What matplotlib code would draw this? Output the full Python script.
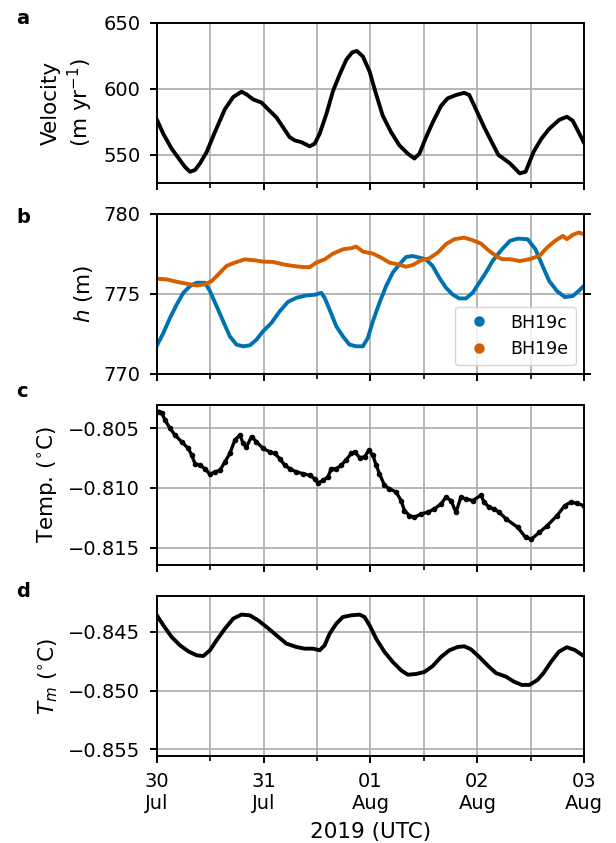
import numpy as np
import pandas as pd
import matplotlib
matplotlib.use("Agg")
import matplotlib.pyplot as plt
import matplotlib.dates as mdates
from matplotlib.lines import Line2D
from matplotlib.ticker import MultipleLocator

# -----------------------------------------------------
# data (time in days since 2019-07-30 00:00 UTC)
# -----------------------------------------------------
vel_t = [0.006, 0.062, 0.14, 0.218, 0.264, 0.311, 0.358, 0.404, 0.467, 0.544,
         0.638, 0.716, 0.793, 0.84, 0.902, 0.98, 1.058, 1.12, 1.182, 1.244,
         1.291, 1.353, 1.431, 1.478, 1.524, 1.587, 1.649, 1.711, 1.773, 1.829,
         1.873, 1.929, 1.991, 2.053, 2.115, 2.193, 2.271, 2.349, 2.411, 2.458,
         2.52, 2.582, 2.66, 2.722, 2.80, 2.877, 2.924, 2.986, 3.064, 3.142,
         3.198, 3.232, 3.305, 3.396, 3.451, 3.525, 3.598, 3.672, 3.763, 3.837,
         3.892, 3.947, 3.994]
vel = [575.9, 565.9, 554.7, 546.0, 541.0, 537.3, 538.6, 543.5, 552.2, 567.2,
       584.6, 593.8, 597.8, 595.8, 592.0, 589.6, 583.3, 578.4, 570.9, 563.4,
       561.0, 559.7, 556.5, 558.5, 566.0, 580.8, 598.3, 610.7, 621.9, 627.6,
       628.6, 624.4, 613.2, 595.8, 579.6, 567.2, 557.2, 551.0, 547.3, 551.0,
       563.4, 574.6, 587.1, 592.8, 595.3, 597.0, 595.3, 584.6, 570.9, 558.5,
       549.8, 548.0, 543.6, 536.1, 537.3, 552.2, 562.2, 569.7, 576.4, 578.9,
       575.9, 567.2, 559.7]

bh19c_t = [0.006, 0.062, 0.124, 0.187, 0.249, 0.311, 0.373, 0.451, 0.498, 0.56,
           0.622, 0.684, 0.747, 0.809, 0.871, 0.933, 0.995, 1.073, 1.151, 1.229,
           1.307, 1.40, 1.478, 1.54, 1.571, 1.617, 1.68, 1.742, 1.804, 1.866,
           1.929, 1.975, 2.022, 2.084, 2.146, 2.208, 2.271, 2.333, 2.395, 2.457,
           2.519, 2.581, 2.644, 2.706, 2.768, 2.83, 2.893, 2.955, 3.017, 3.079,
           3.142, 3.204, 3.232, 3.305, 3.378, 3.47, 3.543, 3.617, 3.672, 3.745,
           3.818, 3.892, 3.947, 3.994]
bh19c = [771.82, 772.55, 773.49, 774.33, 775.06, 775.48, 775.69, 775.69, 775.17, 774.23,
         773.28, 772.34, 771.82, 771.72, 771.78, 772.13, 772.66, 773.18, 773.91, 774.50,
         774.75, 774.90, 774.94, 775.06, 774.75, 774.02, 772.97, 772.34, 771.82, 771.72,
         771.72, 772.24, 773.28, 774.44, 775.48, 776.32, 776.84, 777.30, 777.36, 777.26,
         777.15, 776.74, 776.00, 775.38, 774.96, 774.71, 774.71, 775.06, 775.69, 776.32,
         777.05, 777.57, 777.79, 778.31, 778.45, 778.41, 777.79, 776.63, 775.80, 775.17,
         774.79, 774.86, 775.17, 775.48]

bh19e_t = [0.006, 0.093, 0.187, 0.28, 0.373, 0.451, 0.513, 0.576, 0.653, 0.731,
           0.824, 0.918, 0.995, 1.089, 1.182, 1.275, 1.369, 1.431, 1.493, 1.571,
           1.649, 1.742, 1.82, 1.866, 1.929, 2.022, 2.1, 2.177, 2.255, 2.333,
           2.395, 2.473, 2.551, 2.629, 2.706, 2.784, 2.877, 2.955, 3.033, 3.11,
           3.188, 3.232, 3.305, 3.396, 3.488, 3.58, 3.653, 3.727, 3.80, 3.837,
           3.892, 3.947, 3.994]
bh19e = [775.94, 775.90, 775.75, 775.63, 775.52, 775.59, 775.79, 776.21, 776.74, 776.95,
         777.15, 777.09, 777.01, 776.99, 776.84, 776.74, 776.67, 776.66, 776.95, 777.15,
         777.51, 777.78, 777.85, 777.95, 777.64, 777.51, 777.26, 776.95, 776.84, 776.69,
         776.80, 777.09, 777.22, 777.57, 778.10, 778.41, 778.51, 778.35, 778.14, 777.68,
         777.30, 777.16, 777.16, 777.05, 777.16, 777.37, 777.89, 778.31, 778.62, 778.41,
         778.68, 778.83, 778.73]

temp_t = [0.025, 0.047, 0.078, 0.124, 0.171, 0.233, 0.296, 0.327, 0.358, 0.404,
          0.451, 0.498, 0.544, 0.591, 0.638, 0.684, 0.731, 0.778, 0.809, 0.84,
          0.887, 0.933, 0.995, 1.058, 1.104, 1.151, 1.198, 1.244, 1.307, 1.369,
          1.431, 1.478, 1.509, 1.556, 1.602, 1.633, 1.68, 1.727, 1.774, 1.82,
          1.851, 1.898, 1.945, 1.985, 2.022, 2.053, 2.084, 2.131, 2.177, 2.24,
          2.286, 2.318, 2.364, 2.411, 2.473, 2.535, 2.598, 2.66, 2.706, 2.753,
          2.8, 2.846, 2.893, 2.955, 3.033, 3.064, 3.11, 3.157, 3.204, 3.268,
          3.378, 3.451, 3.506, 3.58, 3.653, 3.745, 3.818, 3.873, 3.928, 3.994]
temp = [-0.80359, -0.80373, -0.80430, -0.80500, -0.80556, -0.80613, -0.80669, -0.80725, -0.80796, -0.80810,
        -0.80838, -0.80886, -0.80866, -0.80852, -0.80782, -0.80711, -0.80599, -0.80556, -0.80627, -0.80655,
        -0.80570, -0.80613, -0.80669, -0.80697, -0.80711, -0.80754, -0.80810, -0.80838, -0.80866, -0.80880,
        -0.80894, -0.80923, -0.80959, -0.80937, -0.80908, -0.80838, -0.80838, -0.80810, -0.80762, -0.80711,
        -0.80697, -0.80745, -0.80740, -0.80683, -0.80725, -0.80810, -0.80880, -0.80979, -0.81007, -0.81035,
        -0.81106, -0.81190, -0.81232, -0.81247, -0.81218, -0.81204, -0.81176, -0.81134, -0.81077, -0.81106,
        -0.81204, -0.81077, -0.81092, -0.81106, -0.81063, -0.81120, -0.81162, -0.81176, -0.81204, -0.81260,
        -0.81331, -0.81416, -0.81429, -0.81373, -0.81317, -0.81232, -0.81148, -0.81120, -0.81128, -0.81148]

tm_t = [0.006, 0.062, 0.14, 0.218, 0.296, 0.373, 0.436, 0.498, 0.56, 0.638,
        0.716, 0.793, 0.871, 0.949, 1.027, 1.12, 1.213, 1.307, 1.384, 1.462,
        1.524, 1.571, 1.618, 1.68, 1.742, 1.82, 1.898, 1.944, 1.991, 2.053,
        2.131, 2.209, 2.287, 2.349, 2.427, 2.504, 2.582, 2.66, 2.738, 2.815,
        2.878, 2.94, 3.018, 3.095, 3.173, 3.268, 3.341, 3.415, 3.488, 3.562,
        3.617, 3.69, 3.763, 3.837, 3.91, 3.994]
tm = [-0.84364, -0.84443, -0.84543, -0.84614, -0.84665, -0.84699, -0.84705, -0.84656, -0.84571, -0.84472,
      -0.84386, -0.84352, -0.84358, -0.84401, -0.84457, -0.84528, -0.84599, -0.84628, -0.84642, -0.84642,
      -0.84656, -0.84614, -0.84514, -0.84429, -0.84372, -0.84358, -0.84352, -0.84372, -0.84443, -0.84557,
      -0.84670, -0.84756, -0.84827, -0.84864, -0.84858, -0.84841, -0.84790, -0.84713, -0.84656, -0.84628,
      -0.84622, -0.84648, -0.84713, -0.84784, -0.84850, -0.84881, -0.84923, -0.84951, -0.84951, -0.84909,
      -0.84852, -0.84753, -0.84668, -0.84630, -0.84653, -0.84704]

start = pd.Timestamp("2019-07-30")
end = pd.Timestamp("2019-08-03")


def to_time(days):
    return start + pd.to_timedelta(np.array(days), unit="D")


c_blue = "#0072B2"
c_orange = "#D55E00"

plt.rcParams["font.size"] = 14
plt.rcParams["axes.labelsize"] = 15.5
plt.rcParams["axes.labelpad"] = 6
plt.rcParams["axes.linewidth"] = 1.4
plt.rcParams["xtick.major.width"] = 1.4
plt.rcParams["ytick.major.width"] = 1.4
plt.rcParams["xtick.minor.width"] = 1.2
plt.rcParams["xtick.major.size"] = 5.3
plt.rcParams["ytick.major.size"] = 5.3
plt.rcParams["xtick.minor.size"] = 3.4
plt.rcParams["xtick.major.pad"] = 6.5
plt.rcParams["ytick.major.pad"] = 6.5

fig, axs = plt.subplots(4, 1, figsize=(6.16, 8.43), dpi=100, sharex=True)
fig.subplots_adjust(left=0.2544, right=0.9485, top=0.9731, bottom=0.1032, hspace=0.194)

ax = axs[0]
ax.plot(to_time(vel_t), vel, color="k", lw=2.8)
ax.set_ylim(529, 650)
ax.yaxis.set_major_locator(MultipleLocator(50))
ax.set_ylabel("Velocity\n(m yr$^{-1}$)")

ax = axs[1]
ax.plot(to_time(bh19c_t), bh19c, color=c_blue, lw=2.8)
ax.plot(to_time(bh19e_t), bh19e, color=c_orange, lw=2.8)
ax.set_ylim(770, 780)
ax.yaxis.set_major_locator(MultipleLocator(5))
ax.tick_params(axis="y", right=True)
ax.set_ylabel("$h$ (m)")
handles = [Line2D([], [], ls="none", marker="o", ms=6.5, color=c_blue),
           Line2D([], [], ls="none", marker="o", ms=6.5, color=c_orange)]
ax.legend(handles, ["BH19c", "BH19e"], loc="lower right", fontsize=12.5)

ax = axs[2]
ax.plot(to_time(temp_t), temp, color="k", lw=2.4, marker="o", ms=3)
ax.set_ylim(-0.81646, -0.80303)
ax.yaxis.set_major_locator(MultipleLocator(0.005))
ax.set_ylabel("Temp. ($^{\\circ}$C)")

ax = axs[3]
ax.plot(to_time(tm_t), tm, color="k", lw=2.8)
ax.set_ylim(-0.85557, -0.84193)
ax.yaxis.set_major_locator(MultipleLocator(0.005))
ax.set_ylabel("$T_m$ ($^{\\circ}$C)")
ax.set_xlabel("2019 (UTC)")

for ax in axs:
    ax.set_xlim(start, end)
    ax.xaxis.set_major_locator(mdates.DayLocator())
    ax.xaxis.set_minor_locator(mdates.HourLocator(byhour=12))
    ax.xaxis.set_major_formatter(mdates.DateFormatter("%d\n%b"))
    ax.grid(True, which="both", axis="x", color="#b0b0b0", lw=1.3)
    ax.grid(True, which="major", axis="y", color="#b0b0b0", lw=1.3)
    ax.set_axisbelow(True)

for lab, yb in zip("abcd", [24, 223, 396.7, 596.7]):
    fig.text(16 / 616, 1 - yb / 843, lab, fontweight="bold", fontsize=14,
             va="baseline", ha="left")

fig.savefig("out.png", dpi=100)
